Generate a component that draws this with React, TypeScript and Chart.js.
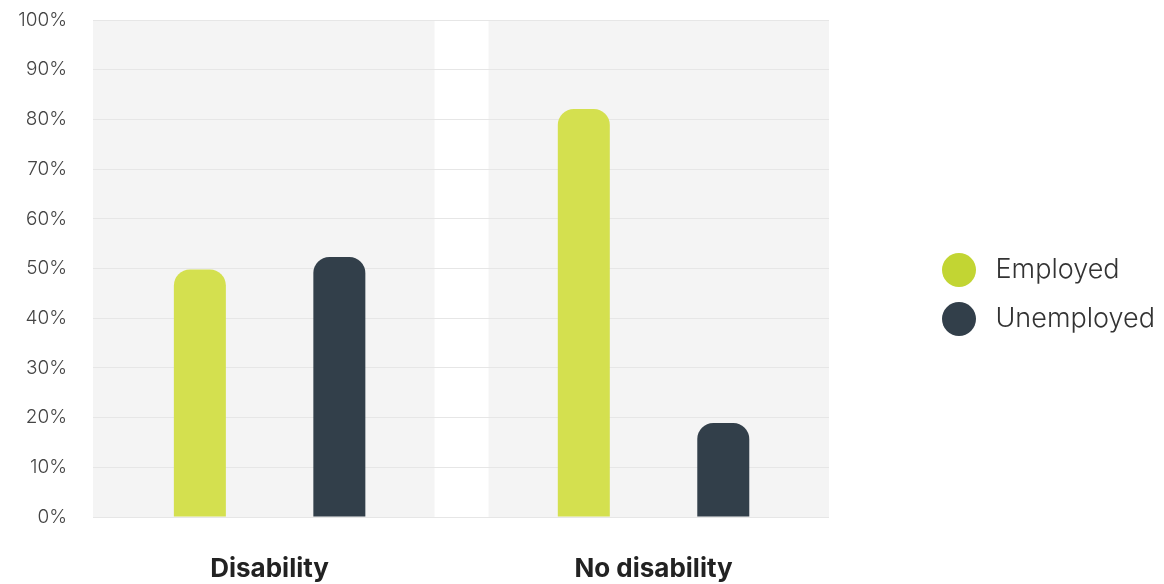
import React, { useEffect, useRef } from "react";
import { Chart, registerables } from "chart.js";

Chart.register(...registerables);

const categories = ["Disability", "No disability"];
const seriesNames = ["Employed", "Unemployed"];
const employed = [49.8, 82.1];
const unemployed = [52.3, 18.9];
const barColors = ["#d4e04f", "#323f4a"];
const legendColors = ["#c2d533", "#323f4a"];
const yTicks = [0, 10, 20, 30, 40, 50, 60, 70, 80, 90, 100];

const FONT = "Inter, 'Noto Sans', sans-serif";

function makeDot(color: string): HTMLCanvasElement {
  const c = document.createElement("canvas");
  c.width = 34;
  c.height = 34;
  const g = c.getContext("2d")!;
  g.fillStyle = color;
  g.beginPath();
  g.arc(17, 17, 17, 0, Math.PI * 2);
  g.fill();
  return c;
}

const bandsPlugin = {
  id: "bands",
  beforeInit(chart: any) {
    const lg = chart.legend;
    if (lg) {
      const orig = lg.fit.bind(lg);
      lg.fit = function () {
        orig();
        this.width = 250;
      };
    }
  },
  beforeDraw(chart: any) {
    const { ctx, chartArea, scales } = chart;
    const x = scales.x;
    const n = categories.length;
    const gap = 54;
    ctx.save();
    ctx.fillStyle = "#f4f4f4";
    for (let i = 0; i < n; i++) {
      const left = i === 0 ? chartArea.left : x.getPixelForValue(i - 0.5) + gap / 2;
      const right = i === n - 1 ? chartArea.right : x.getPixelForValue(i + 0.5) - gap / 2;
      ctx.fillRect(left, chartArea.top, right - left, chartArea.bottom - chartArea.top);
    }
    ctx.restore();
  },
};

export default function App() {
  const ref = useRef<HTMLCanvasElement | null>(null);

  useEffect(() => {
    document.body.style.margin = "0";
    const dots = legendColors.map(makeDot);
    const common = {
      borderRadius: { topLeft: 16, topRight: 16, bottomLeft: 0, bottomRight: 0 },
      borderSkipped: false,
      categoryPercentage: 0.7266,
      barPercentage: 0.3728,
    };
    const chart = new Chart(ref.current!, {
      type: "bar",
      data: {
        datasets: [
          {
            label: seriesNames[0],
            data: employed.map((v, i) => ({ x: i, y: v })),
            backgroundColor: barColors[0],
            ...common,
          },
          {
            label: seriesNames[1],
            data: unemployed.map((v, i) => ({ x: i, y: v })),
            backgroundColor: barColors[1],
            ...common,
          },
        ] as any,
      },
      options: {
        animation: false,
        responsive: false,
        maintainAspectRatio: false,
        layout: { padding: { top: 20, left: 0, right: 0, bottom: 0 } },
        plugins: {
          tooltip: { enabled: false },
          legend: {
            position: "right",
            fullSize: false,
            title: {
              display: true,
              text: "",
              font: { size: 10, lineHeight: 1 },
              padding: { top: 0, bottom: 42 },
            },
            labels: {
              usePointStyle: true,
              pointStyleWidth: 46,
              boxHeight: 27,
              padding: 22,
              color: "#333",
              font: { family: FONT, size: 27, weight: 300 as any },
              generateLabels: (ch: any) =>
                ch.data.datasets.map((ds: any, i: number) => ({
                  text: ds.label,
                  pointStyle: dots[i],
                  fillStyle: legendColors[i],
                  strokeStyle: legendColors[i],
                  lineWidth: 0,
                  hidden: false,
                  datasetIndex: i,
                  fontColor: "#333",
                })),
            },
          },
        },
        scales: {
          x: {
            type: "linear",
            min: -0.46,
            max: 1.457,
            offset: false,
            afterFit: (s: any) => {
              s.height = 67;
              s.paddingLeft = 0;
              s.paddingRight = 0;
            },
            afterBuildTicks: (s: any) => {
              s.ticks = categories.map((_, i) => ({ value: i }));
            },
            grid: { display: false, drawTicks: false },
            border: { display: false },
            ticks: {
              padding: 37,
              color: "#222",
              autoSkip: false,
              maxRotation: 0,
              font: { family: FONT, size: 26, weight: "bold" },
              callback: (v: any) => categories[Math.round(Number(v))] ?? "",
            },
          },
          y: {
            min: 0,
            max: 100,
            afterFit: (s: any) => {
              s.width = 93;
              s.paddingTop = 0;
              s.paddingBottom = 0;
            },
            afterBuildTicks: (s: any) => {
              s.ticks = yTicks.map((v) => ({ value: v }));
            },
            grid: { color: "#e6e6e6", lineWidth: 1, drawTicks: false },
            border: { display: false },
            ticks: {
              padding: 26,
              color: "#444",
              font: { family: FONT, size: 19, weight: 300 as any },
              callback: (v: any) => v + "%",
            },
          },
          y2: {
            position: "right",
            display: true,
            min: 0,
            max: 100,
            afterFit: (s: any) => {
              s.width = 85;
            },
            grid: { display: false, drawTicks: false },
            border: { display: false },
            ticks: { display: false },
          },
        },
      },
      plugins: [bandsPlugin],
    });
    return () => chart.destroy();
  }, []);

  return (
    <div style={{ width: 1164, height: 584 }}>
      <canvas ref={ref} width={1164} height={584} style={{ width: 1164, height: 584, display: "block" }} />
    </div>
  );
}
